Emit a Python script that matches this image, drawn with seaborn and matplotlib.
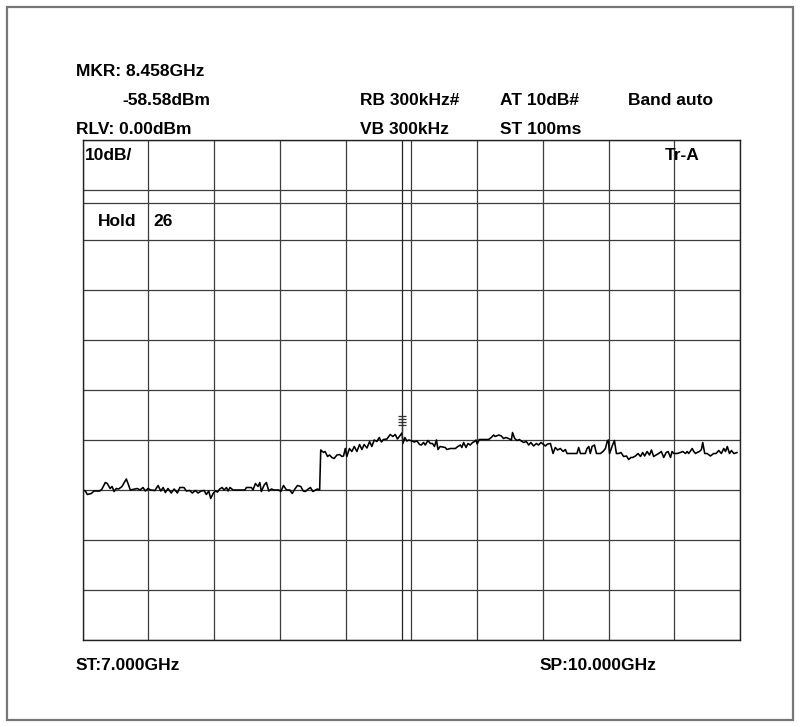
import numpy as np
import pandas as pd
import matplotlib
matplotlib.use("Agg")
import matplotlib.pyplot as plt
from matplotlib.path import Path
from matplotlib.patches import Rectangle
import seaborn as sns

# ---------------- data ----------------
FREQ_START_GHZ = 7.0
FREQ_STOP_GHZ = 10.0
REF_LEVEL_DBM = 0.0
DB_PER_DIV = 10
N_DIV = 10
MARKER_FREQ_GHZ = 8.458
MARKER_LEVEL_DBM = -58.58
DISPLAY_LINE_DBM = -12.6

freq_ghz = [
    7.000, 7.013, 7.022, 7.040, 7.053, 7.079, 7.089, 7.104, 7.113, 7.126,
    7.135, 7.144, 7.154, 7.165, 7.180, 7.200, 7.211, 7.218, 7.238, 7.250,
    7.263, 7.276, 7.287, 7.299, 7.311, 7.330, 7.345, 7.357, 7.368, 7.378,
    7.390, 7.405, 7.418, 7.433, 7.444, 7.463, 7.474, 7.489, 7.501, 7.515,
    7.527, 7.542,
    7.555, 7.565, 7.576, 7.585, 7.596, 7.606, 7.616, 7.626, 7.637, 7.646,
    7.657, 7.664, 7.673, 7.687, 7.741, 7.748, 7.771, 7.778, 7.789, 7.801,
    7.809, 7.816, 7.829, 7.839, 7.850, 7.862, 7.874, 7.896, 7.905, 7.917,
    7.931, 7.946, 7.957, 7.969, 7.981, 7.996, 8.007, 8.017, 8.030, 8.040,
    8.051, 8.063, 8.072, 8.082,
    8.087, 8.100, 8.107, 8.118, 8.127, 8.138, 8.148, 8.161, 8.173, 8.184,
    8.191, 8.199, 8.206, 8.218, 8.229, 8.240, 8.252, 8.264, 8.275, 8.285,
    8.298, 8.310, 8.320, 8.331, 8.343, 8.354, 8.364, 8.373, 8.389, 8.404,
    8.416, 8.427, 8.437, 8.458, 8.462, 8.471, 8.480, 8.489, 8.503, 8.514,
    8.526, 8.538,
    8.546, 8.556, 8.564, 8.576, 8.587, 8.597, 8.606, 8.615, 8.622, 8.632,
    8.655, 8.663, 8.678, 8.701, 8.713, 8.724, 8.731, 8.739, 8.750, 8.759,
    8.769, 8.780, 8.789, 8.795, 8.801, 8.810, 8.853, 8.865, 8.876, 8.883,
    8.899, 8.911, 8.921, 8.932, 8.944, 8.957, 8.962, 8.972, 8.983, 8.993,
    9.005,
    9.013, 9.025, 9.036, 9.046, 9.058, 9.071, 9.081, 9.092, 9.101, 9.112,
    9.122, 9.135, 9.147, 9.157, 9.168, 9.180, 9.193, 9.203, 9.211, 9.256,
    9.264, 9.272, 9.294, 9.302, 9.310, 9.317, 9.325, 9.336, 9.345, 9.363,
    9.375, 9.386, 9.394, 9.399, 9.405, 9.416, 9.427, 9.436, 9.446, 9.457,
    9.469, 9.482, 9.492, 9.502,
    9.510, 9.523, 9.535, 9.546, 9.556, 9.565, 9.576, 9.587, 9.596, 9.606,
    9.617, 9.629, 9.641, 9.652, 9.663, 9.672, 9.683, 9.690, 9.698, 9.713,
    9.728, 9.739, 9.751, 9.759, 9.766, 9.782, 9.789, 9.797, 9.804, 9.815,
    9.824, 9.830, 9.839, 9.850, 9.865, 9.880, 9.891, 9.903, 9.915, 9.926,
    9.934, 9.942, 9.952, 9.961, 9.972, 9.987,
]

level_dbm = [
    -70.0, -70.2, -70.9, -70.7, -70.2, -70.2, -69.8, -68.5, -68.7, -69.7,
    -69.3, -70.3, -69.7, -69.8, -69.3, -67.8, -69.1, -70.0, -69.8, -69.7,
    -70.0, -69.5, -70.2, -69.7, -70.0, -70.1, -69.1, -70.2, -69.5, -70.5,
    -69.7, -70.6, -69.8, -70.6, -69.5, -69.5, -70.2, -70.1, -70.6, -70.1,
    -70.6, -70.2,
    -70.1, -70.9, -70.2, -71.7, -70.7, -70.2, -70.4, -69.8, -69.5, -70.0,
    -69.5, -70.2, -69.5, -70.0, -70.0, -69.5, -69.5, -70.0, -68.7, -69.3,
    -68.5, -70.3, -69.0, -68.5, -70.2, -69.8, -70.0, -70.0, -70.3, -69.1,
    -70.0, -70.0, -70.7, -69.8, -69.1, -69.3, -70.2, -70.3, -69.8, -69.5,
    -70.3, -70.0, -69.8, -70.0,
    -62.0, -62.5, -62.3, -63.3, -63.0, -63.5, -63.7, -63.0, -62.9, -63.3,
    -63.2, -61.7, -63.3, -61.7, -62.3, -61.3, -62.3, -60.9, -61.9, -60.9,
    -61.6, -60.3, -61.3, -60.0, -60.3, -59.5, -60.4, -59.9, -59.8, -58.9,
    -59.3, -58.9, -59.8, -58.58, -60.7, -59.5, -60.2, -60.0, -60.2, -60.4,
    -60.2, -60.9,
    -61.0, -60.5, -61.0, -60.1, -60.7, -60.7, -61.3, -60.0, -61.9, -61.3,
    -61.5, -61.9, -61.7, -61.7, -61.3, -61.0, -61.5, -60.5, -61.5, -60.7,
    -61.0, -60.5, -60.3, -60.0, -60.8, -59.9, -59.9, -59.5, -59.0, -59.3,
    -59.0, -59.2, -59.7, -59.5, -59.7, -60.0, -58.5, -59.7, -60.1, -59.9,
    -60.3,
    -60.5, -60.3, -61.0, -60.5, -61.2, -60.7, -61.0, -60.5, -60.8, -61.2,
    -60.8, -60.7, -62.7, -61.5, -62.0, -61.7, -62.3, -61.9, -62.7, -62.7,
    -61.5, -62.7, -62.7, -61.7, -61.3, -62.7, -61.3, -61.0, -62.7, -62.7,
    -62.3, -61.7, -60.3, -60.0, -62.7, -61.3, -60.1, -62.7, -62.7, -62.5,
    -63.3, -63.2, -63.9, -63.5,
    -63.5, -63.2, -62.7, -63.3, -62.5, -63.2, -62.3, -63.0, -62.0, -63.3,
    -63.0, -62.7, -62.3, -63.5, -62.5, -62.3, -63.5, -62.3, -62.7, -62.7,
    -62.5, -62.3, -62.7, -62.3, -62.7, -61.7, -62.3, -62.7, -62.5, -62.3,
    -61.9, -60.5, -62.7, -62.7, -63.2, -62.7, -62.7, -62.1, -62.7, -61.7,
    -62.3, -61.3, -62.7, -62.1, -62.7, -62.5,
]

header_texts = ["MKR: 8.458GHz", "-58.58dBm", "RB 300kHz#", "AT 10dB#",
                "Band auto", "RLV: 0.00dBm", "VB 300kHz", "ST 100ms"]
grid_texts = ["10dB/", "Tr-A", "Hold", "26"]
footer_texts = ["ST:7.000GHz", "SP:10.000GHz"]

# ---------------- layout (pixels) ----------------
W, H = 800, 727
header_pos = [(76, 76), (122, 105), (360, 105), (500, 105),
              (628, 105), (76, 134.5), (360, 134.5), (500, 134.5)]
grid_pos = [(85, 160), (665, 160), (98, 226.5), (153, 226.5)]
footer_pos = [(76, 670.5), (540, 670.5)]
BOX = (82.5, 140, 740, 640)  # left, top, right, bottom

sns.set_style("white")
plt.rcParams["font.family"] = ["Liberation Sans", "DejaVu Sans"]

fig = plt.figure(figsize=(W / 100, H / 100), dpi=100)
fig.patch.set_facecolor("white")

ax = fig.add_axes([BOX[0] / W, 1 - BOX[3] / H,
                   (BOX[2] - BOX[0]) / W, (BOX[3] - BOX[1]) / H])

df = pd.DataFrame({"freq": freq_ghz, "level": level_dbm})
sns.lineplot(data=df, x="freq", y="level", ax=ax, color="black",
             linewidth=1.15, estimator=None, sort=True)

ax.set_xlim(FREQ_START_GHZ, FREQ_STOP_GHZ)
ax.set_ylim(REF_LEVEL_DBM - DB_PER_DIV * N_DIV, REF_LEVEL_DBM)
ax.set_xticks(np.linspace(FREQ_START_GHZ, FREQ_STOP_GHZ, N_DIV + 1))
ax.set_yticks(np.linspace(REF_LEVEL_DBM - DB_PER_DIV * N_DIV, REF_LEVEL_DBM, N_DIV + 1))
ax.grid(True, color="#3c3c3c", linewidth=0.9)
ax.tick_params(length=0, labelbottom=False, labelleft=False)
ax.set_xlabel("")
ax.set_ylabel("")
for s in ax.spines.values():
    s.set_color("#222222")
    s.set_linewidth(1.0)

ax.axhline(DISPLAY_LINE_DBM, color="#3c3c3c", linewidth=0.9)
ax.axvline(MARKER_FREQ_GHZ, color="#222222", linewidth=0.9)

# marker symbol (stem with stacked bars above the marker point)
verts, codes = [], []
verts += [(0, 0), (0, 14)]
codes += [Path.MOVETO, Path.LINETO]
for yy in (7, 9.3, 11.7, 14):
    verts += [(-3, yy), (3, yy)]
    codes += [Path.MOVETO, Path.LINETO]
mk_path = Path(verts, codes)
ax.plot([MARKER_FREQ_GHZ], [MARKER_LEVEL_DBM], marker=mk_path, markersize=24,
        markerfacecolor="none", markeredgecolor="#333333", markeredgewidth=0.9,
        linestyle="none")

FS = 12.5
for t, (x, y) in zip(header_texts + grid_texts + footer_texts,
                     header_pos + grid_pos + footer_pos):
    fig.text(x / W, 1 - y / H, t, fontsize=FS, fontweight="bold",
             ha="left", va="baseline", color="black")

fig.patches.append(Rectangle((7 / W, 1 - 720 / H), 786 / W, 713 / H,
                             transform=fig.transFigure, fill=False,
                             edgecolor="#777777", linewidth=1.6))

fig.savefig("out.png", dpi=100, facecolor="white")
